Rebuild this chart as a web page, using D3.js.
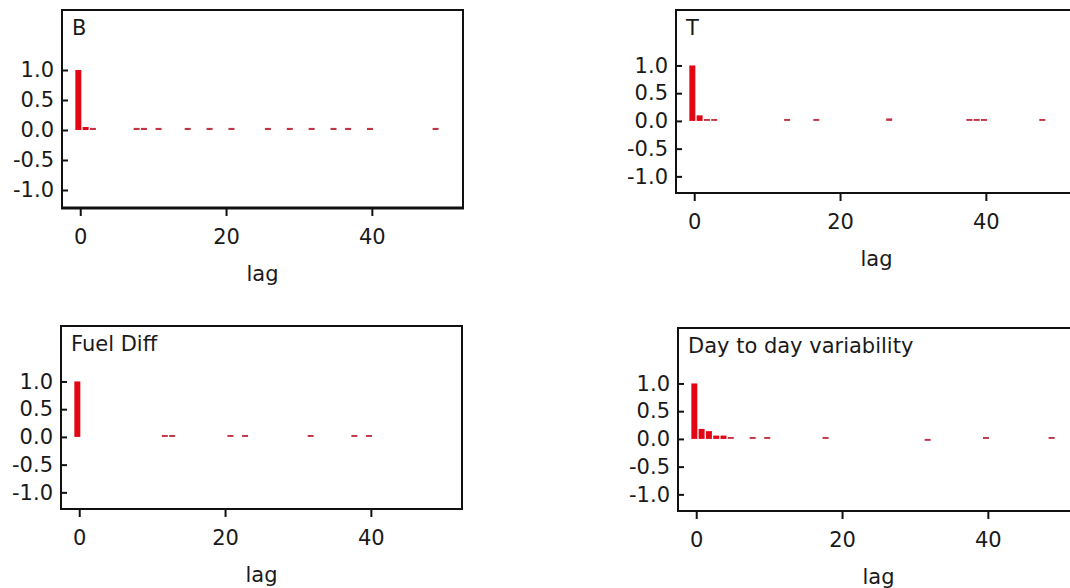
<!DOCTYPE html>
<html>
<head>
<meta charset="utf-8">
<script src="https://cdn.jsdelivr.net/npm/d3@7"></script>
<style>
  body { margin: 0; background: #fff; }
  svg { display: block; }
  text { font-family: 'DejaVu Sans', sans-serif; fill: #1a1a1a; }
</style>
</head>
<body>
<svg id="acf" width="1070" height="588"></svg>
<script>
// autocorrelation values (lag -> acf)
const titles = ['B', 'T', 'Fuel Diff', 'Day to day variability']

const lagsB = [0, 1, 2, 8, 9, 11, 15, 18, 21, 26, 29, 32, 35, 37, 40, 49]
const acfB = [1.0, 0.05, 0.035, 0.035, 0.035, 0.035, 0.035, 0.035, 0.035, 0.035, 0.035, 0.035, 0.035, 0.035, 0.035, 0.035]

const lagsT = [0, 1, 2, 3, 13, 17, 27, 38, 39, 40, 48]
const acfT = [1.0, 0.1, 0.035, 0.035, 0.035, 0.035, 0.045, 0.035, 0.035, 0.035, 0.035]

const lagsFuel = [0, 12, 13, 21, 23, 32, 38, 40]
const acfFuel = [1.0, 0.035, 0.035, 0.035, 0.035, 0.035, 0.035, 0.035]

const lagsDay = [0, 1, 2, 3, 4, 5, 8, 10, 18, 32, 40, 49]
const acfDay = [1.0, 0.18, 0.14, 0.06, 0.06, 0.035, 0.035, 0.035, 0.035, -0.035, 0.035, 0.035]

const xTicks = [0, 20, 40]
const yTicks = [-1.0, -0.5, 0.0, 0.5, 1.0]
const xLabel = 'lag'

const series = [
    {lags: lagsB, acf: acfB},
    {lags: lagsT, acf: acfT},
    {lags: lagsFuel, acf: acfFuel},
    {lags: lagsDay, acf: acfDay}
]

// panel boxes on the page
const layout = [
    {left: 62, top: 10, width: 401, height: 198, bottomStroke: 3},
    {left: 676, top: 10, width: 401, height: 183, bottomStroke: 2},
    {left: 61, top: 326, width: 401, height: 183, bottomStroke: 2},
    {left: 678, top: 328, width: 401, height: 183, bottomStroke: 2}
]

const svg = d3.select('#acf')
const red = '#e30613', dashRed = '#c23444'

titles.forEach((title, i) => {
    let box = layout[i],
        s = series[i],
        data = s.lags.map((lag, j) => ({lag: lag, value: s.acf[j]}))

    let x = d3.scaleLinear().domain([-2.5, 52.5]).range([0, box.width]),
        y = d3.scaleLinear().domain([-1.3, 2.0]).range([box.height, 0])

    let g = svg.append('g')
        .attr('transform', 'translate(' + box.left + ',' + box.top + ')')

    // bars
    g.selectAll('.bar')
        .data(data)
        .enter().append('rect')
        .attr('class', 'bar')
        .attr('x', d => x(d.lag - 0.67))
        .attr('width', x(0.82) - x(0))
        .attr('y', d => y(Math.max(d.value, 0)))
        .attr('height', d => Math.abs(y(d.value) - y(0)))
        .attr('fill', d => Math.abs(d.value) < 0.05 ? dashRed : red)

    // y axis, ticks pointing inward
    let yAxis = g.append('g')
        .call(d3.axisLeft(y).tickValues(yTicks).tickFormat(d3.format('.1f'))
            .tickSizeInner(-6).tickSizeOuter(0).tickPadding(8))
    yAxis.select('.domain').remove()
    yAxis.selectAll('line').attr('stroke', '#111').attr('stroke-width', 2)
    yAxis.selectAll('text')
        .attr('font-size', 21)
        .attr('font-family', 'DejaVu Sans, sans-serif')
        .attr('fill', '#1a1a1a')
        .text(d => d3.format('.1f')(d).replace('−', '-'))

    // x axis
    let xAxis = g.append('g')
        .attr('transform', 'translate(0,' + box.height + ')')
        .call(d3.axisBottom(x).tickValues(xTicks).tickSizeInner(8).tickSizeOuter(0).tickPadding(13))
    xAxis.select('.domain').remove()
    xAxis.selectAll('line').attr('stroke', '#111').attr('stroke-width', 2)
    xAxis.selectAll('text')
        .attr('font-size', 21)
        .attr('font-family', 'DejaVu Sans, sans-serif')
        .attr('fill', '#1a1a1a')

    // frame
    g.append('rect')
        .attr('width', box.width)
        .attr('height', box.height)
        .attr('fill', 'none')
        .attr('stroke', '#111')
        .attr('stroke-width', 2)
    g.append('line')
        .attr('x1', -1).attr('x2', box.width + 1)
        .attr('y1', box.height).attr('y2', box.height)
        .attr('stroke', '#111')
        .attr('stroke-width', box.bottomStroke)

    g.append('text')
        .attr('x', 10)
        .attr('y', 25)
        .attr('font-size', 21)
        .text(title)

    g.append('text')
        .attr('x', box.width / 2)
        .attr('y', box.height + 73)
        .attr('text-anchor', 'middle')
        .attr('font-size', 21)
        .text(xLabel)
})
</script>
</body>
</html>
